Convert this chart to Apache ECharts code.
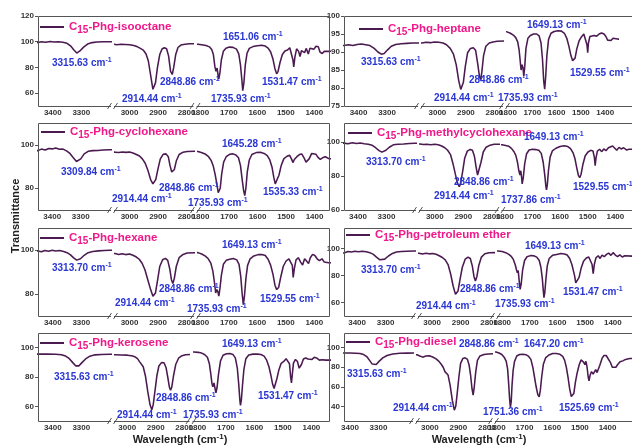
<!DOCTYPE html>
<html><head><meta charset="utf-8">
<script src="https://cdn.jsdelivr.net/npm/echarts@6/dist/echarts.min.js"></script>
<style>html,body{margin:0;padding:0;background:#fff}#c{width:632px;height:448px}</style>
</head><body><div id="c"></div><script>
// ---------------- DATA ----------------
const solvents = ['isooctane','heptane','cyclohexane','methylcyclohexane','hexane','petroleum ether','kerosene','diesel'];

const isooctane = [[3500,99.5],[3452,99.3],[3440,99.9],[3425,99.6],[3410,100.1],[3395,99.8],[3380,100],[3365,99.6],[3350,98.8],[3338,96.8],[3326,93.5],[3316,91.2],[3305,92.8],[3292,95.8],[3278,98.2],[3262,99.3],[3245,99.7],[3225,99.9],[3205,100],[3150,100],
[3100,98.4],[3060,98.2],[3045,97.7],[3030,98],[3015,97.8],[3000,97.6],[2985,97],[2972,96],[2962,94.8],[2952,93.5],[2942,90.5],[2934,85],[2926,74],[2918,63],[2914,62],[2909,68],[2902,80],[2894,90],[2886,94.3],[2878,95.3],[2870,94.5],[2863,89],[2856,77],[2850,74.5],[2845,80],[2838,90],[2830,95.5],[2820,97.4],[2805,98],[2790,98.4],[2760,98.5],
[1830,98.2],[1808,98],[1795,97.6],[1780,97],[1768,96],[1760,94],[1754,90],[1749,81],[1745,77],[1741,79.5],[1737,73],[1735,71],[1731,76],[1726,86],[1719,92.5],[1710,95],[1698,95.8],[1685,95.6],[1673,94.2],[1665,90.5],[1659,82],[1654,70],[1651,62],[1647,68],[1642,82],[1636,91],[1628,94.8],[1615,96.2],[1600,96.8],[1585,97.2],[1572,96.6],[1562,95],[1553,92],[1545,86.5],[1538,79],[1532,75],[1527,77],[1520,84],[1512,90],[1503,92.8],[1494,93.5],[1486,95.3],[1480,94.5],[1475,86],[1472,80.5],[1468,88],[1462,94.5],[1455,92.5],[1450,88.5],[1445,93],[1440,94],[1434,91.5],[1428,94.8],[1421,90.5],[1415,95],[1408,96.3],[1401,94.2],[1394,96.5],[1386,96],[1380,92],[1372,90.8],[1365,92.5],[1358,93.5],[1350,92.5],[1310,93]];

const heptane = [[3500,91.8],[3451,91.8],[3435,92],[3420,91.8],[3405,92.1],[3390,92.2],[3375,92],[3360,91.8],[3345,91],[3332,90],[3320,89.4],[3310,89.6],[3298,90.6],[3285,91.6],[3270,92.1],[3250,92.3],[3230,92.4],[3210,92.5],[3150,92.5],
[3100,92.4],[3054,92.5],[3040,92.7],[3025,92.6],[3010,92.8],[2995,92.7],[2980,92.5],[2968,92],[2955,91],[2944,89.5],[2934,86.5],[2925,82],[2918,79.6],[2914,79.5],[2909,81.5],[2902,86],[2894,89.8],[2884,91],[2874,91.2],[2866,90.5],[2859,87],[2852,83],[2848,82.3],[2844,84.5],[2838,89],[2830,91.6],[2818,92.5],[2805,92.8],[2790,93],[2760,93.1],
[1830,95.8],[1804,95.6],[1790,95.2],[1778,94.7],[1768,94],[1760,92.8],[1754,90.5],[1749,87],[1746,85],[1742,86.5],[1738,85.5],[1735,83.2],[1731,86],[1726,91],[1718,93.8],[1708,94.6],[1695,95],[1682,95],[1672,94.5],[1664,92.5],[1658,88],[1653,82],[1649,79.7],[1645,83],[1640,89],[1633,93.5],[1623,95.2],[1610,95.7],[1595,95.9],[1580,95.8],[1568,95.2],[1558,93.8],[1549,91.5],[1541,89],[1534,87.6],[1529,87.3],[1524,88.3],[1517,90.8],[1508,93],[1498,94.2],[1488,95],[1480,94.9],[1475,92],[1472,89.8],[1469,92.5],[1463,94.3],[1455,94.2],[1445,94.6],[1435,94.4],[1425,95],[1415,95.3],[1405,95],[1397,94.3],[1390,93.3],[1383,93.8],[1376,93.2],[1368,93.8],[1360,93.3],[1350,93.6],[1310,93.5]];

const cyclohexane = [[3500,97.4],[3450,97.3],[3438,98],[3425,97.6],[3412,98.3],[3400,98.1],[3388,98.5],[3375,97.9],[3362,98],[3350,97.2],[3338,96],[3326,94],[3315,92.3],[3309,92.1],[3300,93.5],[3288,95.8],[3274,97],[3258,97.3],[3240,97.4],[3220,97.6],[3200,97.7],[3150,97.8],
[3100,96.6],[3051,96.6],[3038,96.4],[3025,96.7],[3012,96.5],[3000,96.7],[2988,96.2],[2976,95.5],[2965,94.8],[2955,93.5],[2945,91.5],[2935,88],[2926,84],[2918,82],[2914,81.8],[2908,84],[2900,89],[2892,93.5],[2882,95.6],[2872,95.8],[2864,94.5],[2858,90.5],[2852,87.5],[2848,86.7],[2843,88.5],[2836,92.5],[2826,95.5],[2812,96.6],[2798,96.9],[2760,97],
[1830,97],[1809,96.9],[1795,96.3],[1782,95.6],[1772,94.5],[1763,92.8],[1756,90.5],[1749,86.5],[1743,82],[1738,78],[1735,77.3],[1731,80],[1726,86.5],[1719,92],[1710,94.5],[1698,95.6],[1686,95.8],[1676,95.3],[1667,94],[1660,90.5],[1654,84],[1649,79],[1645,76.6],[1641,80],[1636,87.5],[1629,93],[1620,95.5],[1605,96.4],[1590,96.5],[1577,96],[1566,95],[1557,93],[1549,89.5],[1543,85],[1538,82],[1535,81.5],[1531,82.5],[1525,86],[1517,90.5],[1508,93.5],[1498,94.6],[1488,95.2],[1481,93.5],[1476,91.8],[1471,93.2],[1462,94.5],[1453,95.5],[1445,95.8],[1437,94],[1430,92],[1425,91.6],[1419,93.5],[1410,96],[1403,96.6],[1395,95.6],[1388,94.2],[1380,93.3],[1372,94],[1362,94.5],[1350,93.6],[1310,93.5]];

const methylcyclohexane = [[3500,99.2],[3449,99.2],[3435,98.8],[3420,99.4],[3405,99],[3392,99.3],[3378,98.8],[3364,98.6],[3350,97.9],[3338,96.5],[3326,94.8],[3316,93.9],[3313,93.8],[3302,95],[3290,96.8],[3276,98.2],[3260,98.6],[3240,98.7],[3220,99],[3200,99.1],[3150,99.2],
[3100,98.7],[3052,98.7],[3040,98.4],[3028,98.6],[3015,98.3],[3000,98.5],[2988,98.2],[2976,97.5],[2965,96.5],[2955,95],[2945,92.5],[2936,87],[2928,81],[2920,75.5],[2914,73.7],[2909,76],[2902,83],[2895,90.5],[2886,94.5],[2876,95.5],[2868,95],[2861,91.5],[2855,85],[2850,80.5],[2848,79.7],[2844,81.5],[2838,88],[2830,94],[2820,96.8],[2806,98],[2792,98.5],[2760,98.6],
[1830,98.2],[1810,98.2],[1797,97.8],[1785,97.3],[1775,96],[1766,94],[1760,92],[1754,88],[1749,83],[1745,80.5],[1742,83],[1739,79],[1737,75.3],[1733,79],[1728,87],[1721,93],[1712,95.2],[1700,95.6],[1688,95.4],[1677,95],[1668,93.2],[1661,88],[1655,80],[1651,73.5],[1649,71.8],[1646,75],[1642,83],[1636,91],[1628,94.6],[1615,96.2],[1600,97.2],[1585,97.6],[1572,97.2],[1562,96],[1553,93.5],[1546,90],[1540,85],[1534,80.5],[1529,78.9],[1524,81],[1517,87],[1509,91.8],[1499,94],[1489,95],[1481,94.6],[1476,91],[1473,86],[1470,90.5],[1465,94.5],[1457,95.6],[1449,94.2],[1442,95.8],[1434,94.8],[1425,96.5],[1418,95.5],[1410,97.5],[1402,96.2],[1395,95],[1387,96.7],[1379,95.8],[1370,96.5],[1360,95.2],[1350,95.6],[1310,95.5]];

const hexane = [[3500,99.6],[3452,99.6],[3440,99.2],[3428,99.8],[3415,99.4],[3402,99.9],[3390,99.5],[3376,99.8],[3362,99.3],[3350,98.8],[3338,97.8],[3326,96.3],[3316,95.4],[3313,95.3],[3303,96],[3290,97.6],[3276,98.8],[3260,99.3],[3240,99.6],[3220,99.8],[3200,99.9],[3150,100],
[3100,98.4],[3051,98.4],[3038,98],[3026,98.3],[3014,97.9],[3000,98.2],[2988,97.6],[2976,96.8],[2966,95.8],[2956,94],[2946,91],[2936,86.5],[2926,82],[2918,79],[2914,78.6],[2909,80.5],[2902,86],[2894,92.5],[2884,95.6],[2874,96.2],[2866,95.3],[2859,91.5],[2853,86.5],[2848,84.8],[2843,87],[2836,92.5],[2826,96.5],[2812,98],[2798,98.6],[2760,98.8],
[1830,98.8],[1808,98.8],[1795,98.2],[1782,97.2],[1772,96],[1763,94],[1756,90.5],[1750,85],[1746,80.5],[1742,82],[1738,81],[1735,79],[1731,82.5],[1726,88.5],[1719,93.5],[1709,95.3],[1697,95.8],[1684,96.1],[1672,95.5],[1664,93.5],[1658,88],[1653,80],[1649,75.2],[1645,79],[1640,87],[1634,93],[1625,96],[1612,97.3],[1597,97.9],[1584,98],[1572,97.5],[1562,95.8],[1553,93],[1545,89],[1538,84],[1532,82],[1529,81.7],[1525,83],[1518,87.5],[1509,92.5],[1499,95],[1489,96],[1482,96.3],[1477,93],[1474,87.5],[1470,91.5],[1464,95.5],[1456,96.5],[1448,94.5],[1441,93.2],[1434,96],[1427,95],[1420,93.8],[1414,96.5],[1406,98],[1398,97.5],[1390,96],[1382,95.2],[1373,96],[1365,94.5],[1350,94.2],[1310,94.2]];

const petroleumEther = [[3500,96.6],[3446,96.6],[3432,97.6],[3420,97.3],[3408,97.9],[3395,97.5],[3382,97.8],[3368,97.4],[3355,96.8],[3343,95.5],[3332,93.5],[3320,91.5],[3313,91.1],[3303,92],[3290,94.3],[3276,96.2],[3262,97.2],[3245,97.7],[3225,97.9],[3200,98],[3150,98],
[3100,96.4],[3046,96.4],[3034,95.8],[3022,96.3],[3010,95.9],[2998,96.2],[2986,95.6],[2975,94.5],[2964,93.2],[2954,91.5],[2944,88],[2935,81],[2926,72],[2918,66],[2914,65.2],[2909,68.5],[2902,77],[2894,86],[2884,92],[2874,93.5],[2866,92.5],[2859,87],[2853,79],[2848,75.8],[2843,79],[2836,87.5],[2827,93.5],[2815,96],[2800,96.7],[2760,96.9],
[1830,98],[1815,98],[1800,97.6],[1787,96.8],[1776,95.5],[1767,94],[1760,92],[1753,88],[1748,84],[1745,82],[1742,83.5],[1738,75],[1735,69.6],[1731,74],[1726,84],[1719,91],[1710,93.8],[1698,94.6],[1686,94.5],[1675,93.5],[1666,91],[1660,86],[1655,78],[1651,68],[1649,63.5],[1646,67],[1642,77],[1637,87],[1630,92.5],[1618,94.8],[1603,95.5],[1588,96.1],[1575,95.8],[1565,95],[1556,92.5],[1548,88],[1542,83],[1538,79.5],[1534,74.5],[1531,73.3],[1527,74.5],[1522,78.5],[1515,85],[1506,90.5],[1496,92.8],[1487,93.6],[1480,93],[1475,88],[1471,81.2],[1467,88],[1461,93],[1453,94.5],[1446,92.5],[1439,95],[1431,93.8],[1423,95.5],[1415,96.5],[1407,94.8],[1399,96.8],[1391,95],[1383,93.8],[1375,95.2],[1366,93.6],[1357,94.5],[1350,93.8],[1310,94]];

const kerosene = [[3500,95.6],[3452,95.6],[3420,95.6],[3390,95.5],[3370,95.2],[3355,94.3],[3342,92.5],[3330,89.8],[3320,87.6],[3315,87.1],[3308,87.6],[3298,89.8],[3285,92.3],[3270,94.2],[3252,95.1],[3230,95.4],[3200,95.5],[3150,95.5],
[3100,95.2],[3043,95.2],[3020,95],[3000,94.9],[2985,94.5],[2973,93.8],[2964,92.5],[2957,90.5],[2950,89.5],[2944,87],[2936,80.5],[2928,70],[2920,61],[2914,57.7],[2909,61],[2903,70],[2896,81],[2889,87.5],[2880,89.8],[2871,89.7],[2864,86.5],[2858,80],[2852,73],[2848,71],[2844,73],[2838,80.5],[2830,88.5],[2820,92.8],[2808,94.5],[2795,95.2],[2760,95.5],
[1830,97],[1812,97],[1798,96.8],[1785,96.3],[1774,95.2],[1765,93.5],[1758,89],[1753,82],[1749,75.5],[1746,73.3],[1742,76],[1738,72],[1735,69.2],[1731,73],[1726,82],[1719,91],[1710,94.8],[1698,95.9],[1686,96],[1675,95.3],[1667,93],[1660,86],[1655,75],[1651,64],[1649,60.7],[1646,64],[1642,74],[1637,85],[1630,92.5],[1620,95],[1605,95.6],[1590,95.6],[1577,95.3],[1566,94.2],[1557,91.5],[1549,87],[1542,81],[1536,75],[1531,72.2],[1527,73.5],[1521,79],[1514,85],[1506,89.3],[1497,90.6],[1489,92.5],[1482,92.3],[1477,89],[1473,80],[1470,76],[1467,82],[1463,89.5],[1456,92],[1449,90.5],[1443,86],[1439,85],[1435,88.5],[1428,92.3],[1420,93],[1412,92.3],[1405,91],[1398,92],[1390,93.4],[1382,93],[1372,91.5],[1362,91.8],[1350,91.5],[1310,91.5]];

const diesel = [[3500,94.5],[3421,94.5],[3400,94.5],[3380,94.3],[3365,94],[3352,93],[3340,90.5],[3330,86.5],[3322,83.2],[3315,81.8],[3308,82.8],[3298,86],[3285,89.5],[3270,92],[3250,93.6],[3225,94.2],[3200,94.4],[3150,94.5],
[3100,93],[3045,92.8],[3035,91.5],[3025,90.3],[3014,91.5],[3002,91.8],[2990,90.5],[2978,88.5],[2968,86],[2960,83],[2953,80],[2947,75.5],[2942,77.5],[2936,72],[2929,62],[2921,46],[2914,36.1],[2909,40],[2904,53],[2898,70],[2892,84],[2884,89],[2876,89.6],[2868,88],[2862,82],[2857,72],[2852,58],[2848,51.5],[2844,60],[2839,75],[2833,87],[2824,91.5],[2810,93],[2795,93.6],[2760,94],
[1830,95.6],[1803,95.5],[1792,94.5],[1782,93],[1773,90],[1766,86],[1761,78],[1757,62],[1754,48],[1751,38.8],[1748,45],[1745,62],[1741,77],[1736,86],[1728,91.5],[1718,93],[1706,93.3],[1695,92.8],[1685,91],[1677,88],[1670,80],[1664,70],[1658,60],[1652,52],[1647,49.8],[1643,56],[1638,70],[1632,83],[1624,89.5],[1612,92.5],[1598,94],[1585,94],[1572,93.2],[1562,91],[1555,87],[1549,80],[1543,70],[1537,58],[1531,50],[1527,48.1],[1522,53],[1516,65],[1510,74],[1503,82],[1496,87.5],[1490,89.5],[1486,85],[1482,82.5],[1478,86],[1474,80],[1470,70],[1467,66],[1463,72],[1458,75.5],[1452,73],[1447,74],[1443,77.5],[1438,74.5],[1433,76],[1428,82],[1420,89],[1413,92],[1405,92],[1398,90.5],[1390,85],[1383,80],[1377,78],[1370,80],[1364,82.5],[1355,85.5],[1345,86.5],[1335,88],[1320,89],[1300,89]];

const spectra = [isooctane, heptane, cyclohexane, methylcyclohexane, hexane, petroleumEther, kerosene, diesel];

// peak annotations (wavenumbers as printed)
const isooctanePeaks = ['3315.63','2914.44','2848.86','1651.06','1735.93','1531.47'];
const heptanePeaks = ['3315.63','2914.44','2848.86','1735.93','1649.13','1529.55'];
const cyclohexanePeaks = ['3309.84','2914.44','2848.86','1645.28','1735.93','1535.33'];
const methylcyclohexanePeaks = ['3313.70','2848.86','2914.44','1649.13','1737.86','1529.55'];
const hexanePeaks = ['3313.70','2914.44','2848.86','1649.13','1735.93','1529.55'];
const petroleumEtherPeaks = ['3313.70','2914.44','2848.86','1649.13','1735.93','1531.47'];
const kerosenePeaks = ['3315.63','2914.44','2848.86','1649.13','1735.93','1531.47'];
const dieselPeaks = ['3315.63','2914.44','2848.86','1647.20','1751.36','1525.69'];
const peakLabels = [isooctanePeaks, heptanePeaks, cyclohexanePeaks, methylcyclohexanePeaks, hexanePeaks, petroleumEtherPeaks, kerosenePeaks, dieselPeaks];

// tick labels
const xTicksHigh = [3400, 3300];
const xTicksCH = [3000, 2900, 2800];
const xTicksLow = [1800, 1700, 1600, 1500, 1400];
const yTicks = [[60,80,100,120],[75,80,85,90,95,100],[80,100],[60,80,100],[80,100],[60,80,100],[60,80,100],[40,60,80,100]];
const yRanges = [[50,120],[75,100],[70,110],[60,111],[70,110],[50,115],[50,110],[25,115]];

// ---------------- LAYOUT ----------------
// [left, right, top, bottom, seg1End, seg2Start, seg2End, seg3Start, seg1Max, seg2Max, seg3Max]
const K = 0.285; // px per cm-1
const layout = [
  [38,329,16,106, 110,115,192,198, 3452,3051,1808],
  [344,636,16,106, 417,422,502,507, 3451,3054,1804],
  [38,329,123,210, 110,115,193,198, 3450,3051,1809],
  [344,636,123,210, 415,420,498,502, 3449,3052,1810],
  [38,329,228,316, 110,115,193,198, 3452,3051,1808],
  [344,636,228,316, 414,419,493,498, 3446,3046,1815],
  [38,329,333,421, 110,115,188,194, 3452,3043,1812],
  [344,636,333,421, 412,417,491,496, 3421,3045,1803]
];
const legendPos = [[40,27],[359,29],[41,132],[348,133],[40,238],[346,235],[40,343],[346,342]];
const annPos = [
  [[52,63],[122,99],[160,82],[223,37],[211,99],[262,82]],
  [[361,62],[434,98],[469,80],[498,98],[527,25],[570,73]],
  [[61,172],[112,199],[159,188],[222,144],[188,203],[263,192]],
  [[366,162],[454,182],[434,196],[524,137],[501,200],[573,187]],
  [[52,268],[115,303],[159,289],[222,245],[187,309],[260,299]],
  [[361,270],[416,306],[460,289],[525,246],[495,304],[563,292]],
  [[54,377],[117,415],[156,398],[222,344],[183,415],[258,396]],
  [[347,374],[393,408],[459,344],[524,344],[483,412],[559,408]]
];

const FONT = 'Liberation Sans, Arial, sans-serif';
const LINE = '#4a1a50';
const PINK = '#f0188a';
const BLUE = '#2a36d4';
const AXIS = '#555';

const grids = [], xAxes = [], yAxes = [], series = [], legends = [], graphics = [];
const plain = v => String(v);

spectra.forEach((spec, p) => {
  const [L, R, T, B, e1, s2, e2, s3, a1, a2, a3] = layout[p];
  const name = 'C15-Phg-' + solvents[p];
  const segs = [
    {x0: L, x1: e1, max: a1, ticks: xTicksHigh, data: spec.filter(d => d[0] >= 3130)},
    {x0: s2, x1: e2, max: a2, ticks: xTicksCH, data: spec.filter(d => d[0] < 3130 && d[0] > 2500)},
    {x0: s3, x1: R, max: a3, ticks: xTicksLow, data: spec.filter(d => d[0] < 2000)}
  ];
  segs.forEach((sg, j) => {
    const gi = grids.length;
    grids.push({left: sg.x0, top: T, width: sg.x1 - sg.x0, height: B - T, containLabel: false});
    xAxes.push({
      gridIndex: gi, type: 'value', inverse: true,
      max: sg.max, min: sg.max - (sg.x1 - sg.x0) / K,
      axisLine: {show: false}, axisTick: {show: false}, splitLine: {show: false},
      axisLabel: {customValues: sg.ticks, formatter: plain, fontSize: 8, fontWeight: 'bold', color: '#333', margin: 3, fontFamily: FONT}
    });
    yAxes.push(j === 0 ? {
      gridIndex: gi, type: 'value', min: yRanges[p][0], max: yRanges[p][1],
      axisLine: {show: false}, splitLine: {show: false},
      axisTick: {show: true, length: 3, customValues: yTicks[p], lineStyle: {color: AXIS}},
      axisLabel: {customValues: yTicks[p], formatter: plain, fontSize: 8, fontWeight: 'bold', color: '#333', margin: 4, fontFamily: FONT}
    } : {gridIndex: gi, type: 'value', show: false, min: yRanges[p][0], max: yRanges[p][1]});
    series.push({
      type: 'line', name: name, xAxisIndex: gi, yAxisIndex: gi, data: sg.data,
      symbol: 'none', showSymbol: false, clip: true, silent: true,
      lineStyle: {color: LINE, width: 1.55}, itemStyle: {color: LINE}
    });
  });
  legends.push({
    data: [{name: name, icon: 'rect'}], left: legendPos[p][0], top: legendPos[p][1] - 6, padding: 0,
    itemWidth: 24, itemHeight: 2, selectedMode: false,
    formatter: () => '{a|C}{s|15}{a|-Phg-' + solvents[p] + '}',
    textStyle: {rich: {
      a: {fontSize: 11.5, fontWeight: 'bold', color: PINK, fontFamily: FONT},
      s: {fontSize: 10, fontWeight: 'bold', color: PINK, fontFamily: FONT, padding: [7, 0, 0, 0]}
    }}
  });
  // frame
  graphics.push({type: 'rect', z: 10, silent: true,
    shape: {x: L + 0.5, y: T + 0.5, width: R - L, height: B - T},
    style: {fill: 'none', stroke: AXIS, lineWidth: 1}});
  // axis breaks
  [(e1 + s2) / 2, (e2 + s3) / 2].forEach(cx => {
    graphics.push({type: 'rect', z: 11, silent: true, shape: {x: cx - 1.5, y: B - 1, width: 3, height: 3}, style: {fill: '#fff'}});
    graphics.push({type: 'line', z: 12, silent: true, shape: {x1: cx - 5, y1: B + 3, x2: cx - 1, y2: B - 3}, style: {stroke: '#444', lineWidth: 0.9}});
    graphics.push({type: 'line', z: 12, silent: true, shape: {x1: cx + 1, y1: B + 3, x2: cx + 5, y2: B - 3}, style: {stroke: '#444', lineWidth: 0.9}});
  });
  // peak annotations
  peakLabels[p].forEach((lab, k) => {
    graphics.push({type: 'text', z: 20, silent: true, x: annPos[p][k][0], y: annPos[p][k][1],
      style: {text: '{t|' + lab + ' cm}{u|-1}', verticalAlign: 'middle', align: 'left',
        rich: {
          t: {fontSize: 10, fontWeight: 'bold', fill: BLUE, fontFamily: FONT},
          u: {fontSize: 7, fontWeight: 'bold', fill: BLUE, fontFamily: FONT, padding: [0, 0, 6, 0]}
        }}});
  });
});

// axis titles
graphics.push({type: 'text', silent: true, x: 16, y: 216, rotation: Math.PI / 2,
  style: {text: 'Transmittance', fontSize: 11, fontWeight: 'bold', fill: '#222', fontFamily: FONT, align: 'center', verticalAlign: 'middle'}});
[180, 479].forEach(cx => {
  graphics.push({type: 'text', silent: true, x: cx, y: 440,
    style: {text: '{w|Wavelength (cm}{u|-1}{w|)}', align: 'center', verticalAlign: 'middle',
      rich: {
        w: {fontSize: 11, fontWeight: 'bold', fill: '#222', fontFamily: FONT},
        u: {fontSize: 8, fontWeight: 'bold', fill: '#222', fontFamily: FONT, padding: [0, 0, 6, 0]}
      }}});
});

const chart = echarts.init(document.getElementById('c'), null, {renderer: 'canvas'});
chart.setOption({
  animation: false,
  backgroundColor: '#fff',
  grid: grids, xAxis: xAxes, yAxis: yAxes, series: series, legend: legends, graphic: graphics
});
</script></body></html>
